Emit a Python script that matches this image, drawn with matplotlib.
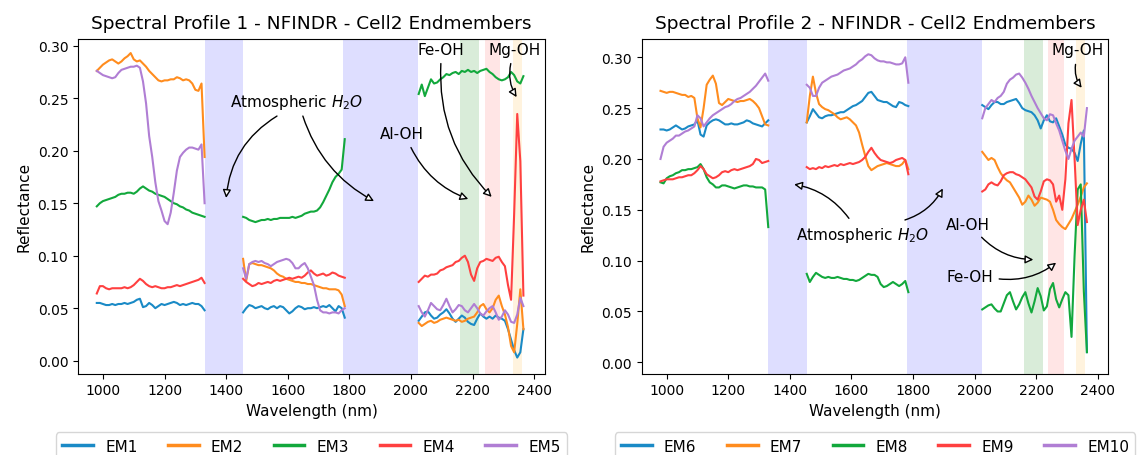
import numpy as np
import matplotlib
matplotlib.use("Agg")
import matplotlib.pyplot as plt

# wavelength grid (nm), water absorption bands removed
wavelength = [980, 990, 1000, 1010, 1020, 1030, 1040, 1050, 1060, 1070, 1080, 1090,
              1100, 1110, 1120, 1130, 1140, 1150, 1160, 1170, 1180, 1190, 1200, 1210,
              1220, 1230, 1240, 1250, 1260, 1270, 1280, 1290, 1300, 1310, 1320, 1330,
              1455, 1465, 1475, 1485, 1495, 1505, 1515, 1525, 1535, 1545, 1555, 1565,
              1575, 1585, 1595, 1605, 1615, 1625, 1635, 1645, 1655, 1665, 1675, 1685,
              1695, 1705, 1715, 1725, 1735, 1745, 1755, 1765, 1775, 1785,
              2025, 2035, 2045, 2055, 2065, 2075, 2085, 2095, 2105, 2115, 2125, 2135,
              2145, 2155, 2165, 2175, 2185, 2195, 2205, 2215, 2225, 2235, 2245, 2255,
              2265, 2275, 2285, 2295, 2305, 2315, 2325, 2335, 2345, 2355, 2365]

# profile 1 endmembers
em1 = [0.055, 0.055, 0.054, 0.053, 0.053, 0.054, 0.053, 0.054, 0.054, 0.055, 0.054, 0.055, 0.056, 0.058, 0.059, 0.051, 0.052, 0.055, 0.053, 0.050, 0.052, 0.054, 0.053, 0.054, 0.055, 0.056, 0.055, 0.053, 0.054, 0.053, 0.054, 0.055, 0.054, 0.054, 0.052, 0.048,
       0.046, 0.050, 0.053, 0.052, 0.050, 0.051, 0.052, 0.050, 0.049, 0.051, 0.052, 0.050, 0.052, 0.051, 0.048, 0.045, 0.047, 0.050, 0.052, 0.051, 0.049, 0.050, 0.050, 0.051, 0.050, 0.051, 0.052, 0.051, 0.053, 0.050, 0.047, 0.052, 0.050, 0.041,
       0.038, 0.042, 0.046, 0.047, 0.043, 0.040, 0.041, 0.044, 0.046, 0.049, 0.045, 0.040, 0.037, 0.040, 0.043, 0.041, 0.037, 0.035, 0.034, 0.040, 0.045, 0.042, 0.040, 0.042, 0.040, 0.043, 0.041, 0.040, 0.038, 0.030, 0.020, 0.010, 0.003, 0.008, 0.030]
em2 = [0.276, 0.279, 0.282, 0.284, 0.286, 0.287, 0.285, 0.283, 0.285, 0.288, 0.290, 0.293, 0.287, 0.285, 0.286, 0.283, 0.280, 0.276, 0.273, 0.270, 0.267, 0.266, 0.267, 0.267, 0.268, 0.268, 0.270, 0.269, 0.267, 0.268, 0.267, 0.264, 0.258, 0.257, 0.264, 0.194,
       0.097, 0.076, 0.092, 0.093, 0.092, 0.091, 0.091, 0.090, 0.089, 0.088, 0.086, 0.083, 0.081, 0.080, 0.078, 0.077, 0.076, 0.075, 0.075, 0.074, 0.074, 0.073, 0.073, 0.072, 0.071, 0.070, 0.069, 0.069, 0.068, 0.068, 0.068, 0.067, 0.063, 0.052,
       0.036, 0.033, 0.035, 0.037, 0.038, 0.036, 0.037, 0.039, 0.040, 0.041, 0.040, 0.039, 0.038, 0.039, 0.037, 0.038, 0.040, 0.041, 0.042, 0.046, 0.052, 0.054, 0.049, 0.046, 0.050, 0.058, 0.062, 0.052, 0.044, 0.032, 0.014, 0.008, 0.035, 0.068, 0.030]
em3 = [0.147, 0.150, 0.152, 0.153, 0.154, 0.155, 0.156, 0.158, 0.159, 0.159, 0.160, 0.160, 0.159, 0.161, 0.164, 0.166, 0.164, 0.162, 0.161, 0.159, 0.158, 0.157, 0.156, 0.154, 0.152, 0.150, 0.149, 0.147, 0.146, 0.144, 0.143, 0.141, 0.140, 0.139, 0.138, 0.137,
       0.137, 0.136, 0.134, 0.133, 0.132, 0.133, 0.134, 0.134, 0.135, 0.134, 0.135, 0.135, 0.136, 0.136, 0.136, 0.136, 0.137, 0.136, 0.137, 0.138, 0.140, 0.141, 0.142, 0.142, 0.143, 0.146, 0.151, 0.157, 0.163, 0.170, 0.175, 0.178, 0.182, 0.211,
       0.254, 0.263, 0.252, 0.260, 0.268, 0.264, 0.265, 0.268, 0.270, 0.273, 0.272, 0.274, 0.275, 0.273, 0.276, 0.275, 0.277, 0.275, 0.276, 0.274, 0.276, 0.277, 0.278, 0.275, 0.273, 0.270, 0.268, 0.267, 0.268, 0.270, 0.275, 0.272, 0.266, 0.264, 0.271]
em4 = [0.064, 0.071, 0.071, 0.069, 0.068, 0.069, 0.069, 0.069, 0.069, 0.070, 0.069, 0.070, 0.072, 0.075, 0.078, 0.076, 0.073, 0.071, 0.070, 0.071, 0.070, 0.069, 0.069, 0.070, 0.070, 0.071, 0.072, 0.071, 0.072, 0.073, 0.074, 0.075, 0.076, 0.077, 0.079, 0.074,
       0.078, 0.075, 0.073, 0.071, 0.072, 0.074, 0.073, 0.074, 0.075, 0.074, 0.076, 0.077, 0.076, 0.077, 0.078, 0.079, 0.078, 0.079, 0.080, 0.079, 0.081, 0.084, 0.086, 0.083, 0.081, 0.082, 0.083, 0.081, 0.082, 0.084, 0.083, 0.081, 0.080, 0.079,
       0.075, 0.078, 0.081, 0.080, 0.082, 0.082, 0.083, 0.086, 0.087, 0.089, 0.090, 0.091, 0.094, 0.095, 0.098, 0.100, 0.094, 0.082, 0.076, 0.088, 0.094, 0.095, 0.097, 0.096, 0.095, 0.098, 0.099, 0.094, 0.090, 0.072, 0.058, 0.140, 0.235, 0.190, 0.062]
em5 = [0.276, 0.274, 0.272, 0.271, 0.270, 0.269, 0.270, 0.274, 0.277, 0.278, 0.279, 0.280, 0.280, 0.281, 0.279, 0.266, 0.245, 0.214, 0.194, 0.170, 0.152, 0.143, 0.133, 0.130, 0.141, 0.160, 0.181, 0.194, 0.198, 0.201, 0.203, 0.203, 0.202, 0.201, 0.206, 0.150,
       0.088, 0.078, 0.092, 0.094, 0.095, 0.094, 0.095, 0.093, 0.092, 0.090, 0.092, 0.094, 0.095, 0.096, 0.097, 0.096, 0.093, 0.088, 0.088, 0.091, 0.093, 0.088, 0.080, 0.072, 0.058, 0.048, 0.046, 0.046, 0.045, 0.046, 0.046, 0.045, 0.048, 0.050,
       0.052, 0.046, 0.042, 0.048, 0.055, 0.052, 0.049, 0.048, 0.053, 0.059, 0.052, 0.046, 0.049, 0.053, 0.052, 0.048, 0.046, 0.050, 0.054, 0.050, 0.045, 0.043, 0.047, 0.050, 0.052, 0.046, 0.039, 0.042, 0.048, 0.044, 0.037, 0.036, 0.044, 0.060, 0.052]

# profile 2 endmembers
em6 = [0.229, 0.229, 0.228, 0.229, 0.231, 0.233, 0.231, 0.229, 0.230, 0.232, 0.233, 0.234, 0.238, 0.224, 0.222, 0.233, 0.236, 0.238, 0.239, 0.238, 0.236, 0.234, 0.234, 0.235, 0.234, 0.234, 0.235, 0.236, 0.238, 0.237, 0.235, 0.234, 0.233, 0.232, 0.235, 0.238,
       0.236, 0.242, 0.249, 0.245, 0.241, 0.240, 0.242, 0.243, 0.243, 0.244, 0.245, 0.246, 0.246, 0.248, 0.250, 0.252, 0.253, 0.255, 0.257, 0.261, 0.265, 0.266, 0.262, 0.258, 0.257, 0.256, 0.256, 0.254, 0.252, 0.251, 0.256, 0.255, 0.253, 0.252,
       0.253, 0.251, 0.249, 0.253, 0.256, 0.256, 0.254, 0.254, 0.256, 0.257, 0.258, 0.259, 0.255, 0.250, 0.248, 0.247, 0.246, 0.243, 0.238, 0.230, 0.238, 0.243, 0.237, 0.236, 0.240, 0.232, 0.224, 0.214, 0.211, 0.210, 0.206, 0.198, 0.215, 0.228, 0.010]
em7 = [0.267, 0.266, 0.265, 0.266, 0.266, 0.265, 0.264, 0.263, 0.263, 0.261, 0.262, 0.260, 0.240, 0.231, 0.250, 0.273, 0.278, 0.282, 0.274, 0.255, 0.253, 0.256, 0.259, 0.258, 0.257, 0.256, 0.257, 0.257, 0.258, 0.259, 0.257, 0.254, 0.250, 0.242, 0.234, 0.233,
       0.236, 0.262, 0.281, 0.265, 0.254, 0.251, 0.249, 0.248, 0.246, 0.244, 0.241, 0.239, 0.240, 0.241, 0.239, 0.236, 0.233, 0.226, 0.214, 0.203, 0.193, 0.189, 0.191, 0.193, 0.194, 0.195, 0.196, 0.195, 0.194, 0.193, 0.193, 0.195, 0.199, 0.190,
       0.207, 0.203, 0.199, 0.201, 0.199, 0.192, 0.186, 0.182, 0.179, 0.177, 0.172, 0.167, 0.162, 0.155, 0.158, 0.164, 0.160, 0.154, 0.157, 0.162, 0.161, 0.160, 0.158, 0.150, 0.140, 0.136, 0.133, 0.131, 0.136, 0.141, 0.148, 0.155, 0.163, 0.172, 0.176]
em8 = [0.177, 0.176, 0.181, 0.183, 0.184, 0.186, 0.187, 0.189, 0.189, 0.190, 0.190, 0.191, 0.192, 0.195, 0.190, 0.182, 0.177, 0.175, 0.172, 0.172, 0.174, 0.174, 0.173, 0.172, 0.171, 0.172, 0.173, 0.174, 0.174, 0.173, 0.173, 0.172, 0.172, 0.172, 0.170, 0.133,
       0.087, 0.079, 0.084, 0.088, 0.086, 0.084, 0.083, 0.084, 0.083, 0.083, 0.084, 0.083, 0.082, 0.082, 0.081, 0.081, 0.080, 0.081, 0.083, 0.085, 0.087, 0.086, 0.086, 0.084, 0.077, 0.074, 0.075, 0.077, 0.079, 0.077, 0.075, 0.077, 0.080, 0.069,
       0.052, 0.054, 0.056, 0.057, 0.053, 0.050, 0.050, 0.058, 0.066, 0.069, 0.060, 0.052, 0.057, 0.064, 0.069, 0.058, 0.049, 0.060, 0.073, 0.065, 0.051, 0.055, 0.072, 0.078, 0.062, 0.054, 0.062, 0.069, 0.066, 0.025, 0.105, 0.170, 0.175, 0.070, 0.010]
em9 = [0.178, 0.179, 0.180, 0.180, 0.180, 0.181, 0.182, 0.182, 0.183, 0.184, 0.184, 0.186, 0.189, 0.193, 0.190, 0.185, 0.183, 0.181, 0.182, 0.184, 0.187, 0.188, 0.187, 0.189, 0.190, 0.189, 0.190, 0.191, 0.192, 0.193, 0.195, 0.200, 0.199, 0.196, 0.197, 0.198,
       0.192, 0.190, 0.191, 0.190, 0.192, 0.191, 0.193, 0.192, 0.193, 0.194, 0.193, 0.195, 0.194, 0.195, 0.196, 0.195, 0.196, 0.197, 0.199, 0.202, 0.207, 0.211, 0.206, 0.202, 0.199, 0.198, 0.197, 0.196, 0.197, 0.199, 0.200, 0.201, 0.199, 0.185,
       0.168, 0.170, 0.175, 0.177, 0.175, 0.174, 0.178, 0.184, 0.186, 0.187, 0.187, 0.185, 0.184, 0.182, 0.180, 0.176, 0.172, 0.163, 0.160, 0.168, 0.178, 0.180, 0.179, 0.175, 0.158, 0.164, 0.150, 0.180, 0.235, 0.258, 0.200, 0.135, 0.150, 0.160, 0.138]
em10 = [0.200, 0.212, 0.216, 0.218, 0.220, 0.223, 0.223, 0.225, 0.227, 0.228, 0.230, 0.232, 0.243, 0.240, 0.232, 0.236, 0.240, 0.243, 0.245, 0.247, 0.249, 0.251, 0.252, 0.254, 0.257, 0.259, 0.260, 0.262, 0.264, 0.266, 0.269, 0.272, 0.276, 0.280, 0.284, 0.277,
        0.273, 0.270, 0.262, 0.262, 0.270, 0.275, 0.277, 0.279, 0.281, 0.282, 0.283, 0.285, 0.287, 0.288, 0.289, 0.291, 0.293, 0.296, 0.298, 0.301, 0.303, 0.302, 0.299, 0.297, 0.296, 0.296, 0.295, 0.295, 0.294, 0.293, 0.293, 0.294, 0.300, 0.275,
        0.240, 0.250, 0.254, 0.258, 0.256, 0.260, 0.262, 0.266, 0.274, 0.278, 0.280, 0.283, 0.284, 0.280, 0.275, 0.269, 0.262, 0.256, 0.250, 0.245, 0.240, 0.238, 0.244, 0.243, 0.235, 0.228, 0.218, 0.208, 0.200, 0.210, 0.218, 0.222, 0.226, 0.222, 0.250]

profile1 = [em1, em2, em3, em4, em5]
profile2 = [em6, em7, em8, em9, em10]
labels1 = ['EM1', 'EM2', 'EM3', 'EM4', 'EM5']
labels2 = ['EM6', 'EM7', 'EM8', 'EM9', 'EM10']
colors = ['#1a8ac6', '#ff8c1e', '#12a83c', '#ff4040', '#b07ed4']

# absorption feature windows (nm)
water_bands = [(1330, 1455), (1780, 2023)]
aloh_band = (2160, 2222)
feoh_band = (2240, 2290)
mgoh_band = (2330, 2360)

wl = np.array(wavelength, dtype=float)
breaks = np.where(np.diff(wl) > 50)[0] + 1


def plot_profile(ax, spectra, names, title, ylim):
    for spec, name, c in zip(spectra, names, colors):
        y = np.array(spec)
        for i, (xs, ys) in enumerate(zip(np.split(wl, breaks), np.split(y, breaks))):
            ax.plot(xs, ys, color=c, lw=1.5, label=name if i == 0 else None)
    for lo, hi in water_bands:
        ax.axvspan(lo, hi, color='blue', alpha=0.13, lw=0)
    ax.axvspan(*aloh_band, color='green', alpha=0.15, lw=0)
    ax.axvspan(*feoh_band, color='red', alpha=0.1, lw=0)
    ax.axvspan(*mgoh_band, color='orange', alpha=0.13, lw=0)
    ax.set_xlim(919, 2435)
    ax.set_ylim(*ylim)
    ax.set_xticks(range(1000, 2401, 200))
    ax.set_yticks(np.arange(0, 0.301, 0.05))
    ax.tick_params(labelsize=10)
    ax.set_title(title, fontsize=13.3, pad=8)
    ax.set_xlabel('Wavelength (nm)', fontsize=11)
    ax.set_ylabel('Reflectance', fontsize=11)
    leg = ax.legend(loc='upper center', bbox_to_anchor=(0.5, -0.176), ncol=5,
                    fontsize=11, borderaxespad=0)
    for h in leg.get_lines():
        h.set_linewidth(2.5)


def arrow(ax, start, tip, rad=0.2):
    ax.annotate('', xy=tip, xytext=start,
                arrowprops=dict(arrowstyle='-|>', connectionstyle='arc3,rad=%s' % rad,
                                facecolor='white', edgecolor='black', lw=1,
                                shrinkA=0, shrinkB=0, mutation_scale=12))


fig = plt.figure(figsize=(11.37, 4.56), dpi=100)
ax1 = fig.add_axes([0.0686, 0.1785, 0.4107, 0.7338])
ax2 = fig.add_axes([0.5644, 0.1785, 0.4105, 0.7338])

plot_profile(ax1, profile1, labels1, 'Spectral Profile 1 - NFINDR - Cell2 Endmembers', (-0.0123, 0.3064))
plot_profile(ax2, profile2, labels2, 'Spectral Profile 2 - NFINDR - Cell2 Endmembers', (-0.0111, 0.318))

# labels for profile 1
ax1.text(1628, 0.247, 'Atmospheric $H_2O$', fontsize=11, ha='center', va='center')
arrow(ax1, (1565, 0.233), (1400, 0.155), 0.25)
arrow(ax1, (1649, 0.233), (1880, 0.152), 0.2)
ax1.text(1972, 0.216, 'Al-OH', fontsize=11, ha='center', va='center')
arrow(ax1, (2000, 0.203), (2186, 0.154), 0.2)
ax1.text(2097, 0.296, 'Fe-OH', fontsize=11, ha='center', va='center')
arrow(ax1, (2097, 0.283), (2262, 0.156), 0.22)
ax1.text(2336, 0.296, 'Mg-OH', fontsize=11, ha='center', va='center')
arrow(ax1, (2324, 0.283), (2343, 0.251), 0.2)

# labels for profile 2
ax2.text(1635, 0.1255, 'Atmospheric $H_2O$', fontsize=11, ha='center', va='center')
arrow(ax2, (1592, 0.1416), (1414, 0.175), 0.2)
arrow(ax2, (1774, 0.140), (1897, 0.171), 0.2)
ax2.text(1979, 0.136, 'Al-OH', fontsize=11, ha='center', va='center')
arrow(ax2, (2023, 0.123), (2191, 0.101), 0.2)
ax2.text(1985, 0.0846, 'Fe-OH', fontsize=11, ha='center', va='center')
arrow(ax2, (2080, 0.082), (2265, 0.098), 0.2)
ax2.text(2336, 0.3075, 'Mg-OH', fontsize=11, ha='center', va='center')
arrow(ax2, (2328, 0.293), (2348, 0.270), 0.2)

fig.savefig('out.png', dpi=100)
